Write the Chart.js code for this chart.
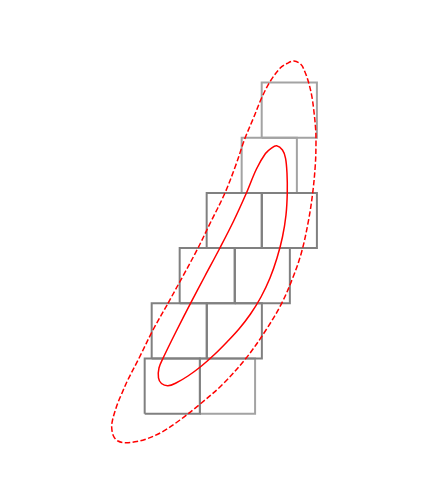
<!DOCTYPE html>
<html>
<head>
<meta charset="utf-8">
<script src="https://cdn.jsdelivr.net/npm/chart.js@4/dist/chart.umd.min.js"></script>
<style>
  body { margin: 0; background: #fff; }
  canvas { display: block; }
</style>
</head>
<body>
<canvas id="chart" width="432" height="504"></canvas>
<script>
// boxes, one unit square each: row = bottom edge, left = left edge
const boxRows = [0, 0, 1, 1, 2, 2, 3, 3, 4, 5];
const boxLefts = [0, 1.0, 0.127, 1.123, 0.634, 1.63, 1.123, 2.12, 1.757, 2.12];
const boxShades = ['dark', 'light', 'dark', 'dark', 'dark', 'dark', 'dark', 'dark', 'light', 'light'];

// inner (solid) outline
const innerX = [0.830, 1.092, 1.353, 1.607, 1.835, 2.025, 2.188, 2.297, 2.391, 2.496, 2.551, 2.578, 2.583,
    2.560, 2.496, 2.397, 2.270, 2.107, 1.917, 1.708, 1.491, 1.264, 1.029, 0.784, 0.567, 0.422, 0.304,
    0.250, 0.259, 0.332, 0.574, 0.830];
const innerY = [2.000, 2.495, 2.984, 3.482, 3.980, 4.433, 4.714, 4.813, 4.853, 4.777, 4.632, 4.361, 3.993,
    3.600, 3.201, 2.821, 2.458, 2.114, 1.806, 1.534, 1.299, 1.072, 0.864, 0.683, 0.556, 0.507, 0.547,
    0.647, 0.828, 1.004, 1.498, 2.000];

// outer (dashed) outline
const outerX = [0.422, 0.694, 0.957, 1.201, 1.446, 1.645, 1.817, 1.971, 2.116, 2.270, 2.451, 2.578, 2.705,
    2.832, 2.904, 2.967, 3.025, 3.063, 3.098, 3.103, 3.091, 3.043, 2.964, 2.844, 2.696, 2.482, 2.197,
    1.835, 1.400, 0.984, 0.639, 0.313, 0.005, -0.176, -0.357, -0.484, -0.565, -0.598, -0.582, -0.542,
    -0.487, -0.426, -0.306, -0.103, 0.150, 0.422];
const outerY = [2.000, 2.495, 2.984, 3.482, 3.980, 4.487, 4.989, 5.357, 5.714, 6.014, 6.257, 6.344, 6.389,
    6.326, 6.190, 6.009, 5.768, 5.502, 5.139, 4.868, 4.505, 3.993, 3.478, 2.935, 2.495, 2.000, 1.516,
    1.004, 0.520, 0.158, -0.114, -0.332, -0.467, -0.509, -0.525, -0.495, -0.404, -0.241, -0.114, 0.031,
    0.194, 0.339, 0.610, 1.004, 1.516, 2.000];

const shadeColors = { dark: '#808080', light: '#a3a3a3' };

function toPoints(xs, ys) {
    return xs.map((x, i) => ({ x: x, y: ys[i] }));
}

const datasets = [
    {
        data: toPoints(innerX, innerY),
        borderColor: '#ff0000',
        borderWidth: 1.5,
        tension: 0.35,
        order: 0
    },
    {
        data: toPoints(outerX, outerY),
        borderColor: '#ff0000',
        borderWidth: 1.5,
        borderDash: [5.5, 2.4],
        tension: 0.35,
        order: 0
    }
];

boxLefts.forEach((left, i) => {
    const bottom = boxRows[i];
    datasets.push({
        data: [
            { x: left, y: bottom },
            { x: left + 1, y: bottom },
            { x: left + 1, y: bottom + 1 },
            { x: left, y: bottom + 1 },
            { x: left, y: bottom }
        ],
        borderColor: shadeColors[boxShades[i]],
        borderWidth: 2,
        tension: 0,
        order: boxShades[i] === 'dark' ? 1 : 2 // light ones underneath
    });
});

new Chart(document.getElementById('chart'), {
    type: 'scatter',
    data: { datasets: datasets.map(ds => ({ ...ds, showLine: true, pointRadius: 0, pointHoverRadius: 0, fill: false })) },
    options: {
        responsive: false,
        animation: false,
        devicePixelRatio: 1,
        layout: { padding: 0 },
        plugins: { legend: { display: false }, tooltip: { enabled: false } },
        scales: {
            x: { type: 'linear', min: -2.621, max: 5.205, display: false },
            y: { type: 'linear', min: -1.636, max: 7.495, display: false }
        }
    }
});
</script>
</body>
</html>
